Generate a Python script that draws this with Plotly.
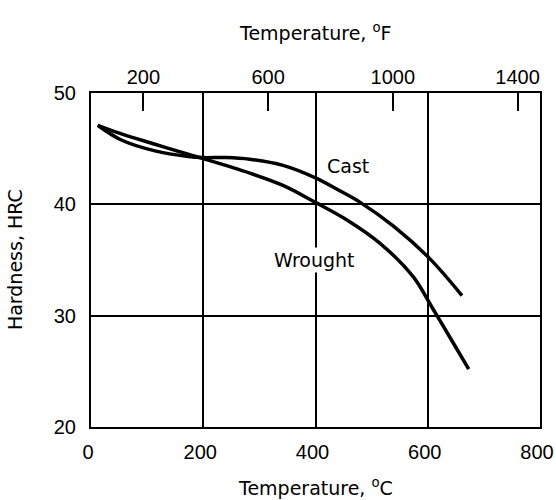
import plotly.graph_objects as go

# Data (temperature in °C, hardness HRC)
cast_T = [12, 53, 114, 173, 200, 240, 283, 342, 399, 444, 479, 540, 604, 661]
cast_H = [47.1, 45.8, 44.8, 44.3, 44.2, 44.2, 44.05, 43.5, 42.4, 41.2, 40.2, 38.0, 35.1, 31.8]
wrought_T = [12, 53, 114, 173, 200, 283, 342, 399, 456, 515, 574, 607, 646, 673]
wrought_H = [47.1, 46.35, 45.4, 44.5, 44.1, 42.8, 41.7, 40.2, 38.6, 36.5, 33.5, 30.8, 27.5, 25.2]

x_ticks_C = [0, 200, 400, 600, 800]
x_ticks_F = [200, 600, 1000, 1400]
y_ticks = [20, 30, 40, 50]

FONT = "DejaVu Sans, Liberation Sans, Arial, sans-serif"
TICKFONT = "Liberation Sans, Arial, sans-serif"

fig = go.Figure()
line_style = dict(color="black", width=3.5, shape="spline", smoothing=1.0)
fig.add_trace(go.Scatter(x=cast_T, y=cast_H, mode="lines", line=line_style, name="Cast", showlegend=False))
fig.add_trace(go.Scatter(x=wrought_T, y=wrought_H, mode="lines", line=line_style, name="Wrought", showlegend=False))
# helper invisible trace on top (°F) axis
fig.add_trace(go.Scatter(x=[32, 1472], y=[20, 20], xaxis="x2", mode="lines", line=dict(width=0),
                         hoverinfo="skip", showlegend=False))

fig.add_annotation(x=458, y=43.4, text="Cast", showarrow=False, font=dict(size=19, color="black", family=FONT))
fig.add_annotation(x=399, y=35.0, text="Wrought", showarrow=False, bgcolor="white",
                   font=dict(size=19, color="black", family=FONT))

# axis titles as annotations
fig.add_annotation(xref="paper", yref="paper", x=0.5, y=1.183, xanchor="center", yanchor="middle",
                   text="Temperature, <sup>o</sup>F", showarrow=False, font=dict(size=19, family=FONT, color="black"))
fig.add_annotation(xref="paper", yref="paper", x=0.5, y=-0.18, xanchor="center", yanchor="middle",
                   text="Temperature, <sup>o</sup>C", showarrow=False, font=dict(size=19, family=FONT, color="black"))
fig.add_annotation(xref="paper", yref="paper", x=-0.169, y=0.5, xanchor="center", yanchor="middle",
                   text="Hardness, HRC", textangle=-90, showarrow=False,
                   font=dict(size=19, family=FONT, color="black"))

tf = dict(size=20, family=TICKFONT, color="black")
fig.update_layout(
    width=556, height=500,
    margin=dict(l=91, r=16, t=93, b=73, autoexpand=False),
    paper_bgcolor="white", plot_bgcolor="white",
    font=dict(family=FONT, color="black", size=19),
    xaxis=dict(range=[0, 800], tickvals=x_ticks_C, showgrid=True, gridcolor="black", gridwidth=1.5,
               showline=True, linecolor="black", linewidth=2, mirror=True, ticks="", zeroline=False,
               tickfont=tf, ticklabelstandoff=6, ticklabelshift=-3, ticklabeloverflow="allow", automargin=False),
    xaxis2=dict(range=[32, 1472], overlaying="x", side="top", tickvals=x_ticks_F, ticks="inside", ticklen=18,
                tickwidth=2, tickcolor="black", showgrid=False, zeroline=False, showline=False,
                tickfont=tf, ticklabelstandoff=4, ticklabeloverflow="allow", automargin=False),
    yaxis=dict(range=[20, 50], tickvals=y_ticks, showgrid=True, gridcolor="black", gridwidth=1.5,
               showline=True, linecolor="black", linewidth=2, mirror=True, ticks="", zeroline=False,
               tickfont=tf, ticklabelstandoff=9, automargin=False),
)

fig.write_html("out.html")
